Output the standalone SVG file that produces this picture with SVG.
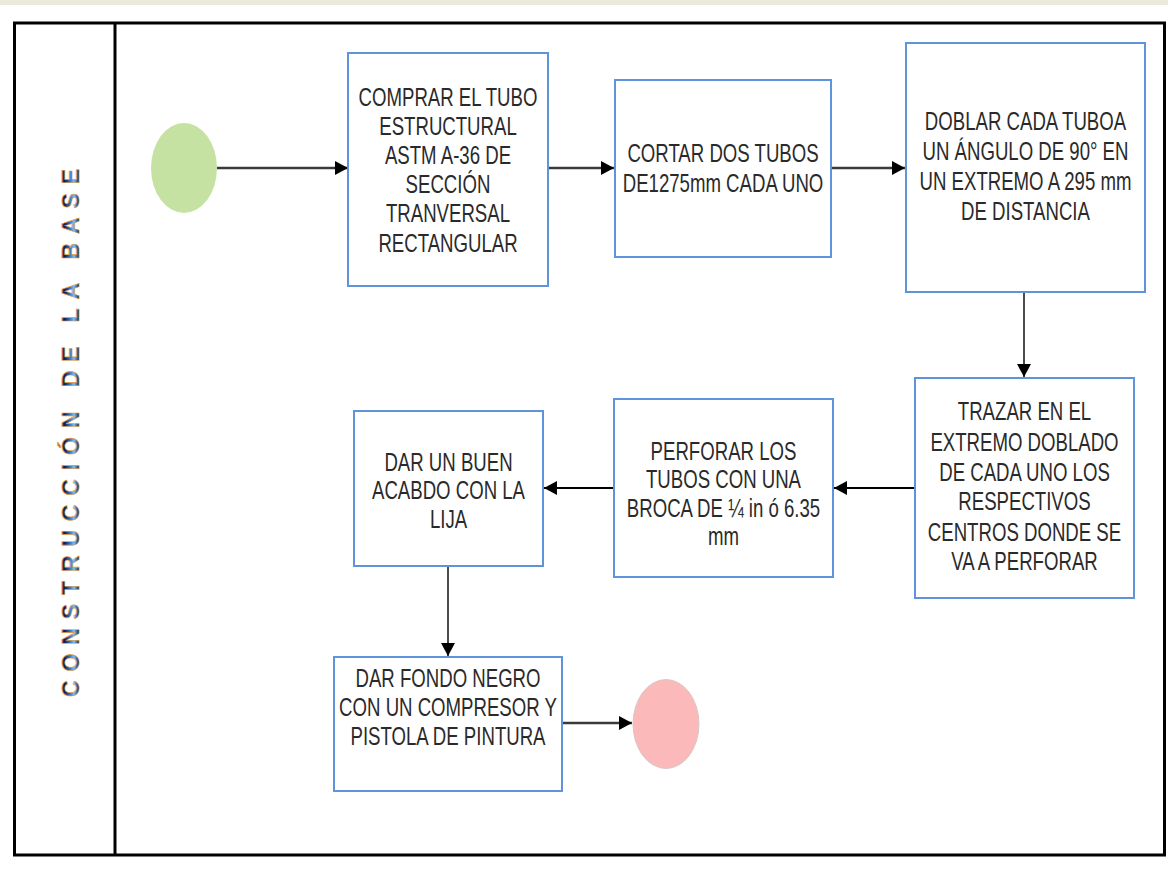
<svg xmlns="http://www.w3.org/2000/svg" width="1168" height="878" viewBox="0 0 1168 878">
<defs>
<style>
.box{fill:#fff;stroke:#5f93dc;stroke-width:2}
.lbl{font-family:"Liberation Sans",Arial,sans-serif;font-size:25.5px;fill:#2a2a2a;text-anchor:middle}
.c1{fill:none;stroke:#3a3a3a;stroke-width:2.5}
.c2{fill:none;stroke:#000;stroke-width:2}
.c3{fill:none;stroke:#111;stroke-width:1.5}
.title{font-family:"Liberation Sans",Arial,sans-serif;font-weight:bold;font-size:23px;fill:url(#tg);stroke:#e79a34;stroke-width:0.6}
</style>
<linearGradient id="tg" x1="0" y1="0" x2="0" y2="1">
<stop offset="0" stop-color="#e79a34"/>
<stop offset="0.3" stop-color="#0f1b5a"/>
<stop offset="0.55" stop-color="#3f8fe0"/>
<stop offset="0.65" stop-color="#7cc0f2"/>
<stop offset="0.85" stop-color="#0f1b5a"/>
<stop offset="1" stop-color="#0a1240"/>
</linearGradient>
<marker id="ah" markerUnits="userSpaceOnUse" markerWidth="14" markerHeight="14" refX="13" refY="7" orient="auto">
<path d="M0,0 L13,7 L0,14 z" fill="#000"/>
</marker>
</defs>
<rect x="0" y="0" width="1168" height="878" fill="#fff"/>
<rect x="0" y="0" width="1168" height="5" fill="#ece8da"/>
<g id="frame">
<rect x="14.5" y="23" width="1150" height="832" fill="none" stroke="#000" stroke-width="3"/>
<line x1="115" y1="23" x2="115" y2="855" stroke="#000" stroke-width="3"/>
<text class="title" transform="translate(78.5,697) rotate(-90)" x="0" y="0" textLength="528" lengthAdjust="spacing">CONSTRUCCIÓN DE LA BASE</text>
</g>
<g id="connectors">
<line class="c1" x1="217" y1="168" x2="348" y2="168" marker-end="url(#ah)"/>
<line class="c1" x1="548" y1="168" x2="614" y2="168" marker-end="url(#ah)"/>
<line class="c1" x1="831" y1="168" x2="905" y2="168" marker-end="url(#ah)"/>
<line class="c3" x1="1024" y1="292" x2="1024" y2="377" marker-end="url(#ah)"/>
<line class="c2" x1="915" y1="488" x2="834" y2="488" marker-end="url(#ah)"/>
<line class="c2" x1="614" y1="488" x2="544" y2="488" marker-end="url(#ah)"/>
<line class="c3" x1="448" y1="566" x2="448" y2="656" marker-end="url(#ah)"/>
<line class="c1" x1="562" y1="723" x2="632" y2="723" marker-end="url(#ah)"/>
</g>
<g id="start">
<ellipse cx="184" cy="168" rx="33" ry="45" fill="#c6e2a3"/>
</g>
<g id="end">
<ellipse cx="666" cy="724" rx="33" ry="44.5" fill="#fbb9b9" stroke="#d8c8c8" stroke-width="1"/>
</g>
<g id="n1">
<rect class="box" x="348" y="53" width="200" height="233"/>
<text class="lbl" transform="translate(448,0) scale(0.73,1)"><tspan x="0" y="106">COMPRAR EL TUBO</tspan><tspan x="0" y="135">ESTRUCTURAL</tspan><tspan x="0" y="164">ASTM A-36 DE</tspan><tspan x="0" y="193">SECCIÓN</tspan><tspan x="0" y="222">TRANVERSAL</tspan><tspan x="0" y="252">RECTANGULAR</tspan></text>
</g>
<g id="n2">
<rect class="box" x="615" y="80" width="216" height="177"/>
<text class="lbl" transform="translate(723,0) scale(0.73,1)"><tspan x="0" y="162">CORTAR DOS TUBOS</tspan><tspan x="0" y="192">DE1275mm CADA UNO</tspan></text>
</g>
<g id="n3">
<rect class="box" x="906" y="43" width="239" height="249"/>
<text class="lbl" transform="translate(1025.5,0) scale(0.73,1)"><tspan x="0" y="130">DOBLAR CADA TUBOA</tspan><tspan x="0" y="160">UN ÁNGULO DE 90° EN</tspan><tspan x="0" y="190">UN EXTREMO A 295 mm</tspan><tspan x="0" y="220">DE DISTANCIA</tspan></text>
</g>
<g id="n4">
<rect class="box" x="915" y="378" width="219" height="220"/>
<text class="lbl" transform="translate(1024.5,0) scale(0.73,1)"><tspan x="0" y="420">TRAZAR EN EL</tspan><tspan x="0" y="451">EXTREMO DOBLADO</tspan><tspan x="0" y="481">DE CADA UNO LOS</tspan><tspan x="0" y="510">RESPECTIVOS</tspan><tspan x="0" y="541">CENTROS DONDE SE</tspan><tspan x="0" y="570">VA A PERFORAR</tspan></text>
</g>
<g id="n5">
<rect class="box" x="614" y="399" width="219" height="178"/>
<text class="lbl" transform="translate(723.5,0) scale(0.73,1)"><tspan x="0" y="460">PERFORAR LOS</tspan><tspan x="0" y="488.5">TUBOS CON UNA</tspan><tspan x="0" y="517">BROCA DE ¼ in ó 6.35</tspan><tspan x="0" y="545.5">mm</tspan></text>
</g>
<g id="n6">
<rect class="box" x="354" y="411" width="189" height="155"/>
<text class="lbl" transform="translate(448.5,0) scale(0.73,1)"><tspan x="0" y="471">DAR UN BUEN</tspan><tspan x="0" y="499.5">ACABDO CON LA</tspan><tspan x="0" y="528">LIJA</tspan></text>
</g>
<g id="n7">
<rect class="box" x="334" y="657" width="228" height="134"/>
<text class="lbl" transform="translate(448,0) scale(0.73,1)"><tspan x="0" y="687">DAR FONDO NEGRO</tspan><tspan x="0" y="716">CON UN COMPRESOR Y</tspan><tspan x="0" y="745">PISTOLA DE PINTURA</tspan></text>
</g>
</svg>
